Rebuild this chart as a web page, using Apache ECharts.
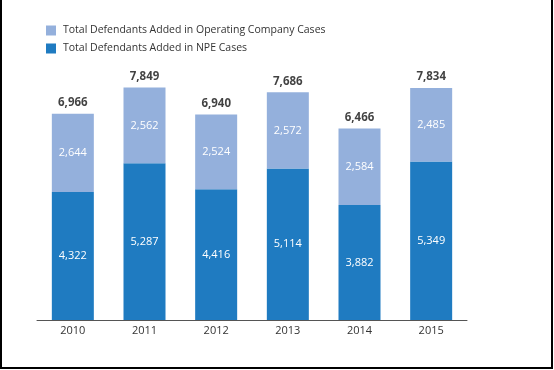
<!DOCTYPE html>
<html>
<head>
<meta charset="utf-8">
<script src="https://cdn.jsdelivr.net/npm/echarts@6/dist/echarts.min.js"></script>
<style>
html,body{margin:0;padding:0;background:#fff;}
#c{width:554px;height:370px;}
</style>
</head>
<body>
<div id="c"></div>
<script>
var years = ['2010','2011','2012','2013','2014','2015'];
var npeCases = [4322, 5287, 4416, 5114, 3882, 5349];
var operatingCases = [2644, 2562, 2524, 2572, 2584, 2485];
var totals = [6966, 7849, 6940, 7686, 6466, 7834];
var seriesNames = ['Total Defendants Added in Operating Company Cases', 'Total Defendants Added in NPE Cases'];

var FONT = 'Open Sans';
var chart = echarts.init(document.getElementById('c'), null, {renderer:'canvas'});
chart.setOption({
  animation: false,
  backgroundColor: '#fff',
  textStyle: {fontFamily: FONT},
  legend: {
    orient: 'vertical',
    left: 41,
    top: 20,
    itemWidth: 10,
    itemHeight: 10,
    itemGap: 7,
    icon: 'rect',
    data: [seriesNames[0], seriesNames[1]],
    textStyle: {fontFamily: FONT, fontSize: 10.5, color: '#333', padding: [0,0,0,2]}
  },
  grid: {left: 37, right: 87, top: 83, bottom: 50},
  xAxis: {
    type: 'category',
    data: years,
    axisLine: {lineStyle: {color: '#555', width: 1}},
    axisTick: {show: false},
    axisLabel: {color: '#333', fontSize: 11, fontFamily: FONT, margin: 5}
  },
  yAxis: {
    type: 'value',
    min: 0,
    max: 8000,
    show: false,
    splitLine: {show: false}
  },
  series: [
    {
      name: seriesNames[1],
      type: 'bar',
      stack: 'total',
      barWidth: 42,
      data: npeCases,
      itemStyle: {color: '#1f7bc1'},
      label: {show: true, position: 'inside', color: '#fff', fontSize: 11, fontFamily: FONT,
        formatter: function(p){ return p.value.toLocaleString('en-US'); }}
    },
    {
      name: seriesNames[0],
      type: 'bar',
      stack: 'total',
      barWidth: 42,
      data: operatingCases,
      itemStyle: {color: '#94b0dc'},
      label: {show: true, position: 'inside', color: '#fff', fontSize: 11, fontFamily: FONT,
        formatter: function(p){ return p.value.toLocaleString('en-US'); }}
    },
    {
      name: 'Total',
      type: 'scatter',
      data: totals,
      symbolSize: 2,
      itemStyle: {color: 'rgba(0,0,0,0)'},
      silent: true,
      label: {show: true, position: 'top', distance: 4, color: '#111', fontSize: 11.5, fontWeight: 'bold', fontFamily: FONT,
        formatter: function(p){ return p.value.toLocaleString('en-US'); }}
    }
  ],
  graphic: [
    {type: 'polyline', shape: {points: [[1,0],[1,368],[552,368],[552,0]]}, style: {stroke: '#000', lineWidth: 2, fill: null}}
  ]
});
</script>
</body>
</html>
